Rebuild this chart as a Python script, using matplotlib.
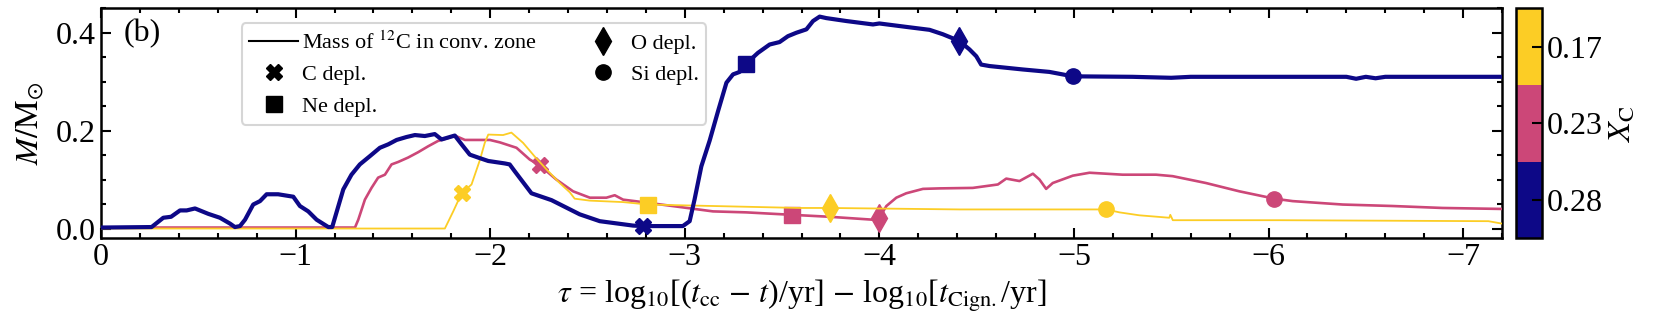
import matplotlib
matplotlib.use("Agg")
import matplotlib.pyplot as plt
import numpy as np
from matplotlib.colors import ListedColormap, BoundaryNorm
from matplotlib.lines import Line2D
import matplotlib.ticker as mticker

plt.rcParams['font.family'] = ['Liberation Serif', 'DejaVu Serif']
plt.rcParams['mathtext.fontset'] = 'stix'

# ---------------- data ----------------
xc_labels = ['0.28', '0.23', '0.17']
colors = ['#0d0887', '#cc4778', '#fccd25']

blue_pts = [(0, 0.002), (-0.26, 0.003), (-0.32, 0.022), (-0.36, 0.024), (-0.406, 0.037), (-0.44, 0.037),
            (-0.483, 0.041), (-0.551, 0.030), (-0.611, 0.022), (-0.663, 0.010), (-0.688, 0.003),
            (-0.714, 0.005), (-0.74, 0.018), (-0.782, 0.049), (-0.817, 0.056), (-0.851, 0.070),
            (-0.91, 0.070), (-0.988, 0.065), (-1.022, 0.046), (-1.065, 0.035), (-1.108, 0.018),
            (-1.168, 0.003), (-1.188, 0.003), (-1.202, 0.022), (-1.245, 0.080), (-1.287, 0.110),
            (-1.33, 0.131), (-1.382, 0.148), (-1.433, 0.165), (-1.476, 0.172), (-1.519, 0.181),
            (-1.57, 0.187), (-1.613, 0.191), (-1.664, 0.189), (-1.715, 0.193), (-1.75, 0.182),
            (-1.818, 0.190), (-1.853, 0.172), (-1.895, 0.151), (-1.938, 0.145), (-1.99, 0.138),
            (-2.075, 0.133), (-2.10, 0.131), (-2.126, 0.117), (-2.212, 0.072), (-2.315, 0.058),
            (-2.46, 0.029), (-2.563, 0.015), (-2.734, 0.006), (-2.786, 0.005), (-2.99, 0.005),
            (-3.025, 0.015), (-3.05, 0.059), (-3.085, 0.127), (-3.128, 0.180), (-3.171, 0.240),
            (-3.214, 0.298), (-3.248, 0.315), (-3.282, 0.320), (-3.316, 0.337), (-3.376, 0.359),
            (-3.436, 0.376), (-3.487, 0.381), (-3.53, 0.393), (-3.573, 0.400), (-3.625, 0.407),
            (-3.659, 0.424), (-3.693, 0.433), (-3.727, 0.430), (-3.83, 0.424), (-3.967, 0.417),
            (-4.0, 0.419), (-4.138, 0.412), (-4.258, 0.406), (-4.326, 0.397), (-4.412, 0.383),
            (-4.463, 0.366), (-4.498, 0.352), (-4.523, 0.335), (-4.566, 0.332), (-4.737, 0.325),
            (-4.874, 0.320), (-4.994, 0.311), (-5.3, 0.310), (-5.4, 0.309), (-5.5, 0.308),
            (-5.6, 0.310), (-6.4, 0.310), (-6.45, 0.306), (-6.5, 0.310), (-6.55, 0.307),
            (-6.6, 0.310), (-7.2, 0.310)]

pink_pts = [(0, 0.002), (-1.305, 0.002), (-1.322, 0.018), (-1.356, 0.059), (-1.39, 0.083), (-1.424, 0.104),
            (-1.459, 0.110), (-1.493, 0.131), (-1.527, 0.136), (-1.578, 0.145), (-1.63, 0.156),
            (-1.681, 0.168), (-1.732, 0.179), (-1.784, 0.185), (-1.818, 0.190), (-1.87, 0.181),
            (-1.938, 0.181), (-1.998, 0.181), (-2.05, 0.176), (-2.135, 0.165), (-2.203, 0.141),
            (-2.255, 0.129), (-2.34, 0.100), (-2.426, 0.076), (-2.512, 0.063), (-2.597, 0.063),
            (-2.64, 0.068), (-2.683, 0.059), (-2.803, 0.053), (-2.974, 0.044), (-3.145, 0.035),
            (-3.316, 0.033), (-3.55, 0.028), (-3.744, 0.024), (-3.967, 0.018), (-4.0, 0.022),
            (-4.036, 0.046), (-4.087, 0.063), (-4.138, 0.072), (-4.224, 0.081), (-4.309, 0.082),
            (-4.48, 0.083), (-4.609, 0.090), (-4.652, 0.102), (-4.72, 0.097), (-4.789, 0.112),
            (-4.823, 0.100), (-4.857, 0.081), (-4.891, 0.093), (-4.994, 0.108), (-5.08, 0.114),
            (-5.25, 0.110), (-5.422, 0.110), (-5.507, 0.107), (-5.678, 0.093), (-5.85, 0.076),
            (-6.03, 0.061), (-6.124, 0.056), (-6.381, 0.049), (-6.637, 0.046), (-6.894, 0.042),
            (-7.2, 0.040)]

yellow_pts = [(0, 0.0), (-1.767, 0.0), (-1.81, 0.035), (-1.853, 0.072), (-1.904, 0.090), (-1.947, 0.140),
              (-1.972, 0.175), (-1.99, 0.192), (-2.066, 0.191), (-2.109, 0.196), (-2.169, 0.175),
              (-2.229, 0.147), (-2.289, 0.121), (-2.357, 0.093), (-2.409, 0.074), (-2.434, 0.061),
              (-2.512, 0.057), (-2.683, 0.054), (-2.811, 0.049), (-3.145, 0.046), (-3.59, 0.042),
              (-3.744, 0.042), (-4.412, 0.039), (-5.165, 0.039), (-5.234, 0.033), (-5.336, 0.027),
              (-5.49, 0.022), (-5.495, 0.028), (-5.508, 0.017), (-6.055, 0.017), (-7.13, 0.015),
              (-7.2, 0.010)]

# depletion markers: (x, y) per series [blue, pink, yellow]
c_depl = [(-2.786, 0.005), (-2.255, 0.129), (-1.853, 0.072)]
ne_depl = [(-3.316, 0.337), (-3.55, 0.028), (-2.811, 0.049)]
o_depl = [(-4.41, 0.383), (-4.0, 0.022), (-3.744, 0.042)]
si_depl = [(-4.994, 0.311), (-6.03, 0.061), (-5.165, 0.039)]

series = [blue_pts, pink_pts, yellow_pts]
lws = [3.0, 1.9, 1.3]
zorders = [5, 3, 4]

# ---------------- figure ----------------
fig = plt.figure(figsize=(16.59, 3.32), dpi=100)
ax = fig.add_axes([0.0609, 0.2822, 0.8445, 0.6928])

for i, pts in enumerate(series):
    xs, ys = zip(*pts)
    ax.plot(xs, ys, color=colors[i], lw=lws[i], zorder=zorders[i], solid_joinstyle='round')
    for pts_m, mk, ms in [(c_depl, 'X', 11), (ne_depl, 's', 11), (o_depl, 'd', 14), (si_depl, 'o', 11)]:
        ax.plot([pts_m[i][0]], [pts_m[i][1]], marker=mk, ms=ms, color=colors[i],
                ls='none', zorder=zorders[i])

ax.set_xlim(0, -7.2)
ax.set_ylim(-0.02, 0.45)
ax.xaxis.set_major_locator(mticker.MultipleLocator(1))
ax.xaxis.set_minor_locator(mticker.MultipleLocator(0.2))
ax.yaxis.set_major_locator(mticker.MultipleLocator(0.2))
ax.yaxis.set_minor_locator(mticker.MultipleLocator(0.05))
ax.xaxis.set_major_formatter(mticker.FuncFormatter(lambda v, p: ('\u2212%d' % abs(round(v))) if v < -0.01 else '0'))
ax.yaxis.set_major_formatter(mticker.FormatStrFormatter('%.1f'))
ax.tick_params(which='both', direction='in', top=True, right=True, width=1.5, labelsize=23)
ax.tick_params(which='major', length=7)
ax.tick_params(which='minor', length=3.5)
for s in ax.spines.values():
    s.set_linewidth(1.8)

ax.set_xlabel(r'$\tau$ = log$_{10}$[($t_{\rm cc}$ $-$ $t$)/yr] $-$ log$_{10}$[$t_{\rm Cign.}$/yr]', fontsize=23)
ax.set_ylabel(r'$M/\mathrm{M}_{\odot}$', fontsize=23, labelpad=7)
ax.text(0.016, 0.89, '(b)', transform=ax.transAxes, fontsize=23, va='center', ha='left')

handles = [Line2D([], [], color='k', lw=1.5),
           Line2D([], [], color='k', marker='X', ls='none', ms=11),
           Line2D([], [], color='k', marker='s', ls='none', ms=11),
           Line2D([], [], color='k', marker='d', ls='none', ms=14),
           Line2D([], [], color='k', marker='o', ls='none', ms=11)]
labels = [r'Mass of $^{12}$C in conv. zone', 'C depl.', 'Ne depl.', 'O depl.', 'Si depl.']
leg = ax.legend(handles, labels, ncol=2, loc='upper left', bbox_to_anchor=(0.1004, 0.935),
                borderaxespad=0, fontsize=16, handlelength=2.2, handletextpad=0.15,
                columnspacing=1.9, labelspacing=0.5, borderpad=0.35, frameon=True, fancybox=True)
leg.get_frame().set_edgecolor('#cccccc')
leg.get_frame().set_linewidth(1.5)

# colorbar
cax = fig.add_axes([0.9138, 0.2822, 0.0157, 0.6928])
cmap = ListedColormap(colors)
norm = BoundaryNorm([0, 1, 2, 3], 3)
sm = plt.cm.ScalarMappable(norm=norm, cmap=cmap)
cb = fig.colorbar(sm, cax=cax, ticks=[0.5, 1.5, 2.5])
cb.set_ticklabels(xc_labels)
cb.outline.set_linewidth(1.8)
cax.tick_params(direction='in', length=7, width=1.5, labelsize=23)
cax.minorticks_off()
cb.set_label(r'$X_{\rm C}$', fontsize=23)

fig.savefig('out.png', dpi=100)
